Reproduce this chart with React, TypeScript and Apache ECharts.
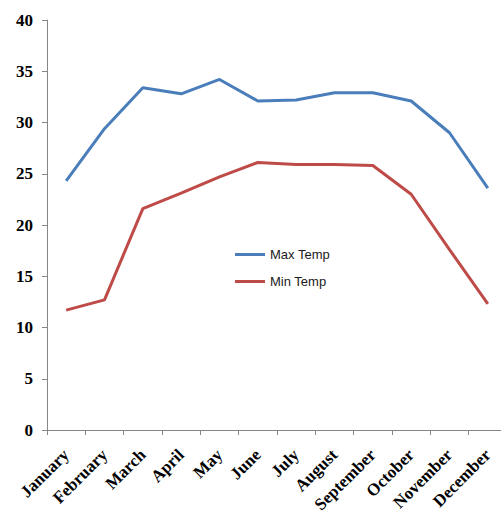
import React, { useEffect, useRef } from "react";
import * as echarts from "echarts";

const months = ["January", "February", "March", "April", "May", "June", "July", "August", "September", "October", "November", "December"];
const maxTemp = [24.3, 29.4, 33.4, 32.8, 34.2, 32.1, 32.2, 32.9, 32.9, 32.1, 29.0, 23.6];
const minTemp = [11.7, 12.7, 21.6, 23.1, 24.7, 26.1, 25.9, 25.9, 25.8, 23.0, 17.6, 12.3];

export default function App() {
  const ref = useRef<HTMLDivElement>(null);
  useEffect(() => {
    const chart = echarts.init(ref.current!, null, { renderer: "svg" });
    chart.setOption({
      animation: false,
      backgroundColor: "#ffffff",
      grid: { left: 47, top: 20, bottom: 85, right: -6, containLabel: false, outerBoundsMode: "none" },
      legend: {
        orient: "vertical",
        left: 230,
        top: 242,
        icon: "rect",
        itemWidth: 30,
        itemHeight: 3,
        itemGap: 12,
        textStyle: { fontFamily: "Liberation Sans", fontSize: 13, color: "#1a1a1a", lineHeight: 15 },
        data: ["Max Temp", "Min Temp"],
      },
      xAxis: {
        type: "category",
        data: months,
        boundaryGap: true,
        axisLine: { lineStyle: { color: "#868686", width: 1 } },
        axisTick: { show: true, length: 5, alignWithLabel: false, lineStyle: { color: "#868686" } },
        axisLabel: {
          rotate: 45,
          interval: 0,
          margin: 22,
          fontFamily: "Liberation Serif",
          fontWeight: "bold",
          fontSize: 17,
          color: "#000000",
        },
        splitLine: { show: false },
      },
      yAxis: {
        type: "value",
        min: 0,
        max: 40,
        interval: 5,
        axisLine: { show: true, lineStyle: { color: "#868686", width: 1 } },
        axisTick: { show: true, length: 5, lineStyle: { color: "#868686" } },
        axisLabel: {
          margin: 14,
          fontFamily: "Liberation Serif",
          fontWeight: "bold",
          fontSize: 17,
          color: "#000000",
        },
        splitLine: { show: false },
      },
      series: [
        {
          name: "Max Temp",
          type: "line",
          data: maxTemp,
          symbol: "none",
          lineStyle: { color: "#4A7EBB", width: 3 },
          itemStyle: { color: "#4A7EBB" },
        },
        {
          name: "Min Temp",
          type: "line",
          data: minTemp,
          symbol: "none",
          lineStyle: { color: "#BE4B48", width: 3 },
          itemStyle: { color: "#BE4B48" },
        },
      ],
    });
    return () => chart.dispose();
  }, []);
  return <div ref={ref} style={{ position: "fixed", left: 0, top: 0, width: 501, height: 515 }} />;
}
